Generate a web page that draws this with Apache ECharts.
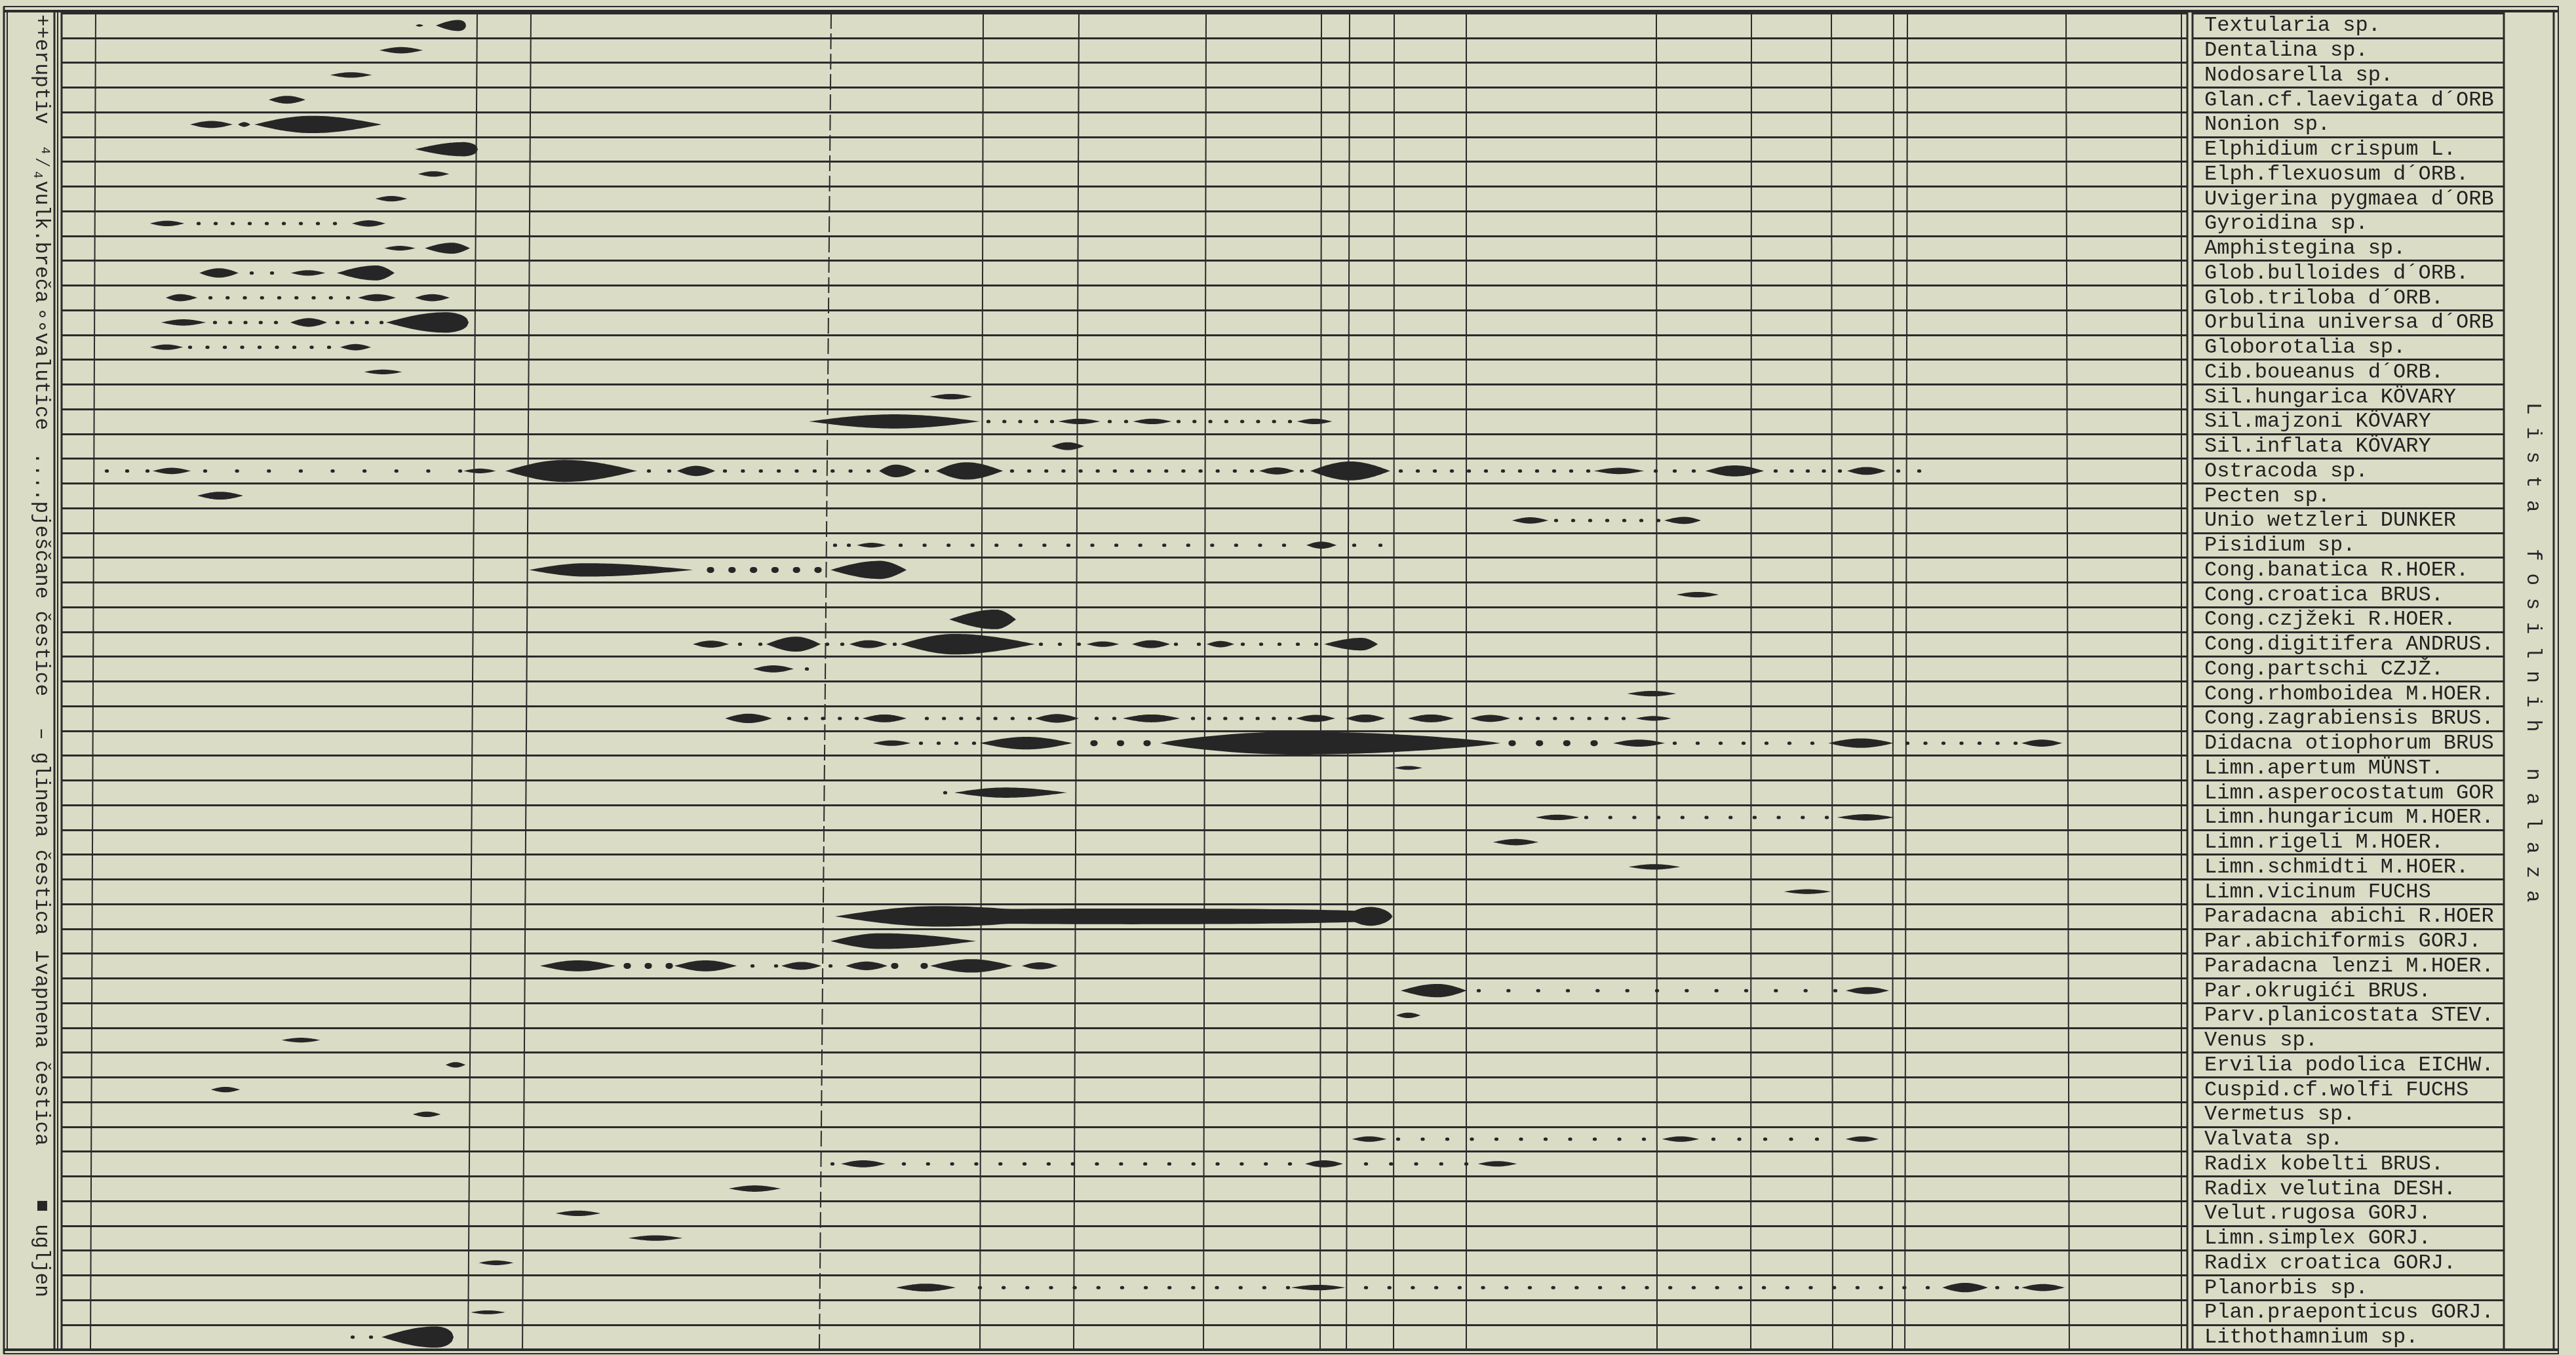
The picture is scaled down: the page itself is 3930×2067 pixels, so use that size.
<!DOCTYPE html>
<html>
<head>
<meta charset="utf-8">
<title>Lista fosilnih nalaza</title>
<script src="https://cdn.jsdelivr.net/npm/echarts@6/dist/echarts.min.js"></script>
<style>
  html, body { margin: 0; padding: 0; background: #dadcc6; }
  #chart { width: 3930px; height: 2067px; }
</style>
</head>
<body>
<div id="chart"></div>
<script>
// species, top to bottom
const species = [
  'Textularia sp.', 'Dentalina sp.', 'Nodosarella sp.', 'Glan.cf.laevigata d´ORB', 'Nonion sp.',
  'Elphidium crispum L.', 'Elph.flexuosum d´ORB.', 'Uvigerina pygmaea d´ORB', 'Gyroidina sp.',
  'Amphistegina sp.', 'Glob.bulloides d´ORB.', 'Glob.triloba d´ORB.', 'Orbulina universa d´ORB',
  'Globorotalia sp.', 'Cib.boueanus d´ORB.', 'Sil.hungarica KÖVARY', 'Sil.majzoni KÖVARY',
  'Sil.inflata KÖVARY', 'Ostracoda sp.', 'Pecten sp.', 'Unio wetzleri DUNKER', 'Pisidium sp.',
  'Cong.banatica R.HOER.', 'Cong.croatica BRUS.', 'Cong.czjžeki R.HOER.', 'Cong.digitifera ANDRUS.',
  'Cong.partschi CZJŽ.', 'Cong.rhomboidea M.HOER.', 'Cong.zagrabiensis BRUS.', 'Didacna otiophorum BRUS',
  'Limn.apertum MÜNST.', 'Limn.asperocostatum GOR', 'Limn.hungaricum M.HOER.', 'Limn.rigeli M.HOER.',
  'Limn.schmidti M.HOER.', 'Limn.vicinum FUCHS', 'Paradacna abichi R.HOER', 'Par.abichiformis GORJ.',
  'Paradacna lenzi M.HOER.', 'Par.okrugići BRUS.', 'Parv.planicostata STEV.', 'Venus sp.',
  'Ervilia podolica EICHW.', 'Cuspid.cf.wolfi FUCHS', 'Vermetus sp.', 'Valvata sp.',
  'Radix kobelti BRUS.', 'Radix velutina DESH.', 'Velut.rugosa GORJ.', 'Limn.simplex GORJ.',
  'Radix croatica GORJ.', 'Planorbis sp.', 'Plan.praeponticus GORJ.', 'Lithothamnium sp.'
];

// ruled section columns: [position at top, position at bottom, dashed]
const columnLines = [
  [146, 138], [728, 714], [810, 797], [1268, 1250, true], [1500, 1495], [1646, 1638],
  [1840, 1836], [2016, 2014], [2059, 2054], [2127, 2126], [2237, 2237], [2527, 2528],
  [2672, 2671], [2794, 2796], [2889, 2887], [2910, 2906], [3152, 3157]
];

// occurrences drawn as lenses: [species, from, to, abundance, peak (0..1), fullness]
const lenses = [
  ['Textularia sp.', 634, 646, 3, 0.5], ['Textularia sp.', 665, 711, 14, 0.75],
  ['Dentalina sp.', 579, 645, 8, 0.5],
  ['Nodosarella sp.', 504, 567, 7, 0.5],
  ['Glan.cf.laevigata d´ORB', 410, 466, 10, 0.5],
  ['Nonion sp.', 290, 355, 9, 0.5], ['Nonion sp.', 363, 382, 6, 0.5], ['Nonion sp.', 388, 582, 22, 0.45],
  ['Elphidium crispum L.', 633, 729, 18, 0.78],
  ['Elph.flexuosum d´ORB.', 638, 685, 7, 0.5],
  ['Uvigerina pygmaea d´ORB', 573, 621, 7, 0.5],
  ['Gyroidina sp.', 229, 281, 7, 0.5], ['Gyroidina sp.', 537, 588, 8, 0.5],
  ['Amphistegina sp.', 586, 634, 6, 0.5], ['Amphistegina sp.', 648, 717, 14, 0.6],
  ['Glob.bulloides d´ORB.', 304, 364, 12, 0.5], ['Glob.bulloides d´ORB.', 444, 496, 7, 0.5],
  ['Glob.bulloides d´ORB.', 514, 602, 19, 0.68],
  ['Glob.triloba d´ORB.', 253, 301, 9, 0.45], ['Glob.triloba d´ORB.', 546, 604, 9, 0.5],
  ['Glob.triloba d´ORB.', 633, 686, 9, 0.5],
  ['Orbulina universa d´ORB', 246, 314, 8, 0.5], ['Orbulina universa d´ORB', 443, 499, 11, 0.5],
  ['Orbulina universa d´ORB', 589, 715, 26, 0.72],
  ['Globorotalia sp.', 229, 279, 7, 0.5], ['Globorotalia sp.', 519, 566, 8, 0.5],
  ['Cib.boueanus d´ORB.', 555, 614, 6, 0.5],
  ['Sil.hungarica KÖVARY', 1419, 1483, 7, 0.5],
  ['Sil.majzoni KÖVARY', 1234, 1495, 18, 0.5], ['Sil.majzoni KÖVARY', 1615, 1678, 7, 0.5],
  ['Sil.majzoni KÖVARY', 1729, 1787, 7, 0.5], ['Sil.majzoni KÖVARY', 1979, 2032, 7, 0.5],
  ['Sil.inflata KÖVARY', 1604, 1654, 10, 0.5],
  ['Ostracoda sp.', 233, 291, 8, 0.5], ['Ostracoda sp.', 707, 757, 6, 0.5], ['Ostracoda sp.', 771, 972, 28, 0.45],
  ['Ostracoda sp.', 1033, 1091, 13, 0.5], ['Ostracoda sp.', 1341, 1398, 16, 0.45], ['Ostracoda sp.', 1428, 1530, 22, 0.45],
  ['Ostracoda sp.', 1921, 1975, 9, 0.5], ['Ostracoda sp.', 1999, 2121, 24, 0.5], ['Ostracoda sp.', 2432, 2508, 8, 0.5],
  ['Ostracoda sp.', 2602, 2691, 14, 0.5], ['Ostracoda sp.', 2818, 2877, 10, 0.5],
  ['Pecten sp.', 301, 371, 10, 0.5],
  ['Unio wetzleri DUNKER', 2307, 2362, 8, 0.5], ['Unio wetzleri DUNKER', 2539, 2595, 9, 0.55],
  ['Pisidium sp.', 1307, 1352, 6, 0.5], ['Pisidium sp.', 1993, 2039, 9, 0.5],
  ['Cong.banatica R.HOER.', 807, 1057, 17, 0.35], ['Cong.banatica R.HOER.', 1267, 1383, 23, 0.65],
  ['Cong.croatica BRUS.', 2558, 2622, 7, 0.5],
  ['Cong.czjžeki R.HOER.', 1448, 1550, 25, 0.7],
  ['Cong.digitifera ANDRUS.', 1057, 1112, 9, 0.5], ['Cong.digitifera ANDRUS.', 1169, 1252, 19, 0.55],
  ['Cong.digitifera ANDRUS.', 1296, 1354, 10, 0.5], ['Cong.digitifera ANDRUS.', 1374, 1579, 26, 0.4],
  ['Cong.digitifera ANDRUS.', 1658, 1707, 7, 0.5], ['Cong.digitifera ANDRUS.', 1727, 1785, 10, 0.5],
  ['Cong.digitifera ANDRUS.', 1841, 1883, 8, 0.5], ['Cong.digitifera ANDRUS.', 2020, 2102, 16, 0.7],
  ['Cong.partschi CZJŽ.', 1149, 1211, 9, 0.5],
  ['Cong.rhomboidea M.HOER.', 2483, 2557, 7, 0.5],
  ['Cong.zagrabiensis BRUS.', 1106, 1178, 12, 0.5], ['Cong.zagrabiensis BRUS.', 1316, 1383, 10, 0.5],
  ['Cong.zagrabiensis BRUS.', 1579, 1646, 11, 0.5], ['Cong.zagrabiensis BRUS.', 1713, 1800, 10, 0.5],
  ['Cong.zagrabiensis BRUS.', 1977, 2037, 9, 0.5], ['Cong.zagrabiensis BRUS.', 2053, 2113, 10, 0.5],
  ['Cong.zagrabiensis BRUS.', 2148, 2218, 10, 0.5], ['Cong.zagrabiensis BRUS.', 2243, 2304, 9, 0.5],
  ['Cong.zagrabiensis BRUS.', 2495, 2550, 6, 0.5],
  ['Didacna otiophorum BRUS', 1332, 1389, 7, 0.5], ['Didacna otiophorum BRUS', 1495, 1636, 16, 0.5],
  ['Didacna otiophorum BRUS', 1770, 2289, 29, 0.4, 0.8], ['Didacna otiophorum BRUS', 2461, 2540, 9, 0.5],
  ['Didacna otiophorum BRUS', 2789, 2889, 12, 0.5], ['Didacna otiophorum BRUS', 3084, 3146, 9, 0.5],
  ['Limn.apertum MÜNST.', 2127, 2170, 5, 0.5],
  ['Limn.asperocostatum GOR', 1456, 1628, 13, 0.45],
  ['Limn.hungaricum M.HOER.', 2343, 2409, 7, 0.5], ['Limn.hungaricum M.HOER.', 2803, 2890, 8, 0.5],
  ['Limn.rigeli M.HOER.', 2278, 2347, 8, 0.5],
  ['Limn.schmidti M.HOER.', 2485, 2563, 7, 0.5],
  ['Limn.vicinum FUCHS', 2721, 2794, 6, 0.5],
  ['Paradacna abichi R.HOER', 1274, 1650, 26, 0.42], ['Paradacna abichi R.HOER', 1330, 2125, 20, 0.5, 0.22],
  ['Paradacna abichi R.HOER', 2058, 2124, 24, 0.5, 0.6],
  ['Par.abichiformis GORJ.', 1267, 1489, 20, 0.35],
  ['Paradacna lenzi M.HOER.', 824, 939, 14, 0.5], ['Paradacna lenzi M.HOER.', 1029, 1124, 14, 0.5],
  ['Paradacna lenzi M.HOER.', 1192, 1253, 10, 0.5], ['Paradacna lenzi M.HOER.', 1290, 1354, 11, 0.5],
  ['Paradacna lenzi M.HOER.', 1419, 1545, 17, 0.5], ['Paradacna lenzi M.HOER.', 1559, 1614, 9, 0.5],
  ['Par.okrugići BRUS.', 2137, 2238, 17, 0.55], ['Par.okrugići BRUS.', 2816, 2882, 9, 0.5],
  ['Parv.planicostata STEV.', 2130, 2167, 7, 0.5],
  ['Venus sp.', 429, 489, 6, 0.5],
  ['Ervilia podolica EICHW.', 680, 710, 7, 0.5],
  ['Cuspid.cf.wolfi FUCHS', 322, 366, 7, 0.5],
  ['Vermetus sp.', 630, 672, 7, 0.5],
  ['Valvata sp.', 2063, 2115, 7, 0.5], ['Valvata sp.', 2536, 2592, 7, 0.5], ['Valvata sp.', 2816, 2866, 7, 0.5],
  ['Radix kobelti BRUS.', 1283, 1351, 9, 0.5], ['Radix kobelti BRUS.', 1991, 2049, 9, 0.5],
  ['Radix kobelti BRUS.', 2255, 2314, 7, 0.5],
  ['Radix velutina DESH.', 1112, 1191, 8, 0.5],
  ['Velut.rugosa GORJ.', 848, 916, 7, 0.5],
  ['Limn.simplex GORJ.', 959, 1041, 7, 0.5],
  ['Radix croatica GORJ.', 730, 784, 6, 0.5],
  ['Planorbis sp.', 1367, 1458, 10, 0.5], ['Planorbis sp.', 1970, 2052, 7, 0.5],
  ['Planorbis sp.', 2963, 3033, 12, 0.5], ['Planorbis sp.', 3084, 3150, 9, 0.5],
  ['Plan.praeponticus GORJ.', 718, 771, 5, 0.5],
  ['Lithothamnium sp.', 582, 692, 27, 0.75]
];

// sparse occurrences drawn as dotted runs: [species, from, to, kind]
const dotRuns = [
  ['Gyroidina sp.', 303, 511, 'fine'],
  ['Glob.bulloides d´ORB.', 384, 415, 'fine'],
  ['Glob.triloba d´ORB.', 321, 531, 'fine'],
  ['Orbulina universa d´ORB', 328, 421, 'fine'], ['Orbulina universa d´ORB', 515, 582, 'fine'],
  ['Globorotalia sp.', 290, 502, 'fine'],
  ['Sil.majzoni KÖVARY', 1508, 1605, 'fine'], ['Sil.majzoni KÖVARY', 1693, 1718, 'fine'],
  ['Sil.majzoni KÖVARY', 1798, 1968, 'fine'],
  ['Ostracoda sp.', 163, 225, 'fine'], ['Ostracoda sp.', 313, 702, 'wide'], ['Ostracoda sp.', 990, 1021, 'fine'],
  ['Ostracoda sp.', 1106, 1325, 'fine'], ['Ostracoda sp.', 1414, 1414, 'fine'], ['Ostracoda sp.', 1544, 1910, 'fine'],
  ['Ostracoda sp.', 1986, 1986, 'fine'], ['Ostracoda sp.', 2137, 2423, 'fine'], ['Ostracoda sp.', 2526, 2584, 'fine'],
  ['Ostracoda sp.', 2709, 2807, 'fine'], ['Ostracoda sp.', 2896, 2928, 'fine'],
  ['Unio wetzleri DUNKER', 2374, 2530, 'fine'],
  ['Pisidium sp.', 1274, 1295, 'fine'], ['Pisidium sp.', 1374, 1959, 'open'], ['Pisidium sp.', 2066, 2106, 'open'],
  ['Cong.banatica R.HOER.', 1084, 1248, 'bead'],
  ['Cong.digitifera ANDRUS.', 1129, 1160, 'fine'], ['Cong.digitifera ANDRUS.', 1262, 1285, 'fine'],
  ['Cong.digitifera ANDRUS.', 1365, 1365, 'fine'], ['Cong.digitifera ANDRUS.', 1588, 1646, 'fine'],
  ['Cong.digitifera ANDRUS.', 1794, 1829, 'fine'], ['Cong.digitifera ANDRUS.', 1896, 2008, 'fine'],
  ['Cong.partschi CZJŽ.', 1231, 1231, 'fine'],
  ['Cong.zagrabiensis BRUS.', 1204, 1307, 'fine'], ['Cong.zagrabiensis BRUS.', 1414, 1571, 'fine'],
  ['Cong.zagrabiensis BRUS.', 1673, 1700, 'fine'], ['Cong.zagrabiensis BRUS.', 1820, 1968, 'fine'],
  ['Cong.zagrabiensis BRUS.', 2320, 2477, 'fine'],
  ['Didacna otiophorum BRUS', 1405, 1486, 'fine'], ['Didacna otiophorum BRUS', 1669, 1750, 'bead'],
  ['Didacna otiophorum BRUS', 2307, 2432, 'bead'], ['Didacna otiophorum BRUS', 2555, 2765, 'open'],
  ['Didacna otiophorum BRUS', 2910, 3075, 'fine'],
  ['Limn.asperocostatum GOR', 1442, 1442, 'fine'],
  ['Limn.hungaricum M.HOER.', 2420, 2787, 'open'],
  ['Paradacna lenzi M.HOER.', 957, 1021, 'bead'], ['Paradacna lenzi M.HOER.', 1148, 1184, 'open'],
  ['Paradacna lenzi M.HOER.', 1267, 1267, 'fine'], ['Paradacna lenzi M.HOER.', 1365, 1410, 'bead'],
  ['Par.okrugići BRUS.', 2256, 2800, 'wide'],
  ['Valvata sp.', 2133, 2508, 'open'], ['Valvata sp.', 2614, 2772, 'open'],
  ['Radix kobelti BRUS.', 1270, 1270, 'fine'], ['Radix kobelti BRUS.', 1379, 1968, 'open'],
  ['Radix kobelti BRUS.', 2084, 2237, 'open'],
  ['Planorbis sp.', 1495, 1965, 'open'], ['Planorbis sp.', 2084, 2941, 'open'], ['Planorbis sp.', 3047, 3077, 'fine'],
  ['Lithothamnium sp.', 538, 566, 'fine']
];

// legend of lithology (left margin) and the column title (right margin)
const legendLabels = ['++eruptiv', '⁴⁄₄vulk.breča', '∘∘valutice', '....pješčane čestice',
  '– glinena čestica', '⊥vapnena čestica', '■ ugljen'];
const sideTitle = 'L i s t a   f o s i l n i h   n a l a z a';

// ---- styles and layout ----
const PAPER = '#dadcc6';
const INK = '#262626';
const RULE = '#2b2b2b';
const MONO = "'Liberation Mono', 'DejaVu Sans Mono', monospace";
const THICK = 1.2;   // px of lens thickness per abundance unit
const dotStyles = {
  fine: { gap: 26, size: 5 },
  open: { gap: 36, size: 5 },
  wide: { gap: 46, size: 5 },
  bead: { gap: 36, size: 9 }
};
const legendY = [22, 220, 470, 690, 1110, 1450, 1830];

const rowOf = name => species.indexOf(name);

// lens thickness profile, t in 0..1
function lensProfile(t, peak, full) {
  let u, side;
  if (t <= peak) { u = peak > 0 ? t / peak : 1; side = peak; }
  else { u = (1 - t) / (1 - peak); side = 1 - peak; }
  let s = side < 0.3 ? Math.sqrt(Math.max(0, 1 - (1 - u) * (1 - u))) : Math.sin(Math.PI / 2 * u);
  return Math.pow(Math.max(0, s), full);
}

function renderLens(params, api) {
  const row = api.value(0);
  const a = api.coord([api.value(1), row]);
  const b = api.coord([api.value(2), row]);
  const half = api.value(3) * THICK / 2;
  const peak = api.value(4);
  const full = api.value(5);
  const steps = 48;
  const top = [], bottom = [];
  for (let i = 0; i <= steps; i++) {
    const t = i / steps;
    const x = a[0] + (b[0] - a[0]) * t;
    const h = half * lensProfile(t, peak, full);
    top.push([x, a[1] - h]);
    bottom.push([x, a[1] + h]);
  }
  return {
    type: 'polygon',
    shape: { points: top.concat(bottom.reverse()) },
    style: { fill: INK }
  };
}

function renderDots(params, api) {
  const row = api.value(0);
  const a = api.coord([api.value(1), row]);
  const b = api.coord([api.value(2), row]);
  const gap = api.value(3), size = api.value(4);
  const len = b[0] - a[0];
  const n = Math.max(0, Math.round(len / gap));
  const children = [];
  for (let k = 0; k <= n; k++) {
    const cx = n === 0 ? a[0] : a[0] + len * k / n;
    const w = size * 1.25;
    children.push({
      type: 'rect',
      shape: { x: cx - w / 2, y: a[1] - size / 2, width: w, height: size, r: size / 2 },
      style: { fill: INK }
    });
  }
  return { type: 'group', children };
}

function renderColumn(params, api) {
  const cs = params.coordSys;
  const xt = api.coord([api.value(0), 0])[0];
  const xb = api.coord([api.value(1), 0])[0];
  return {
    type: 'line',
    shape: { x1: xt, y1: cs.y, x2: xb, y2: cs.y + cs.height },
    style: { stroke: RULE, lineWidth: 2, lineDash: api.value(2) ? [24, 7] : null }
  };
}

// frame drawing helpers (layout only)
const vline = (x, y1, y2, w) => ({ type: 'line', shape: { x1: x, y1, x2: x, y2 }, style: { stroke: RULE, lineWidth: w }, silent: true });
const hline = (y, x1, x2, w) => ({ type: 'line', shape: { x1, y1: y, x2, y2: y }, style: { stroke: RULE, lineWidth: w }, silent: true });

const graphics = [
  hline(10, 5, 3904, 2), hline(17, 5, 3904, 4),
  hline(2059, 5, 3904, 4), hline(2065, 5, 3904, 2),
  vline(6, 10, 2065, 3), vline(11, 17, 2059, 2),
  vline(83, 17, 2059, 3), vline(88, 17, 2059, 2), vline(94, 17, 2059, 3),
  vline(3328, 17, 2059, 2), vline(3337, 17, 2059, 3), vline(3345, 17, 2059, 3),
  vline(3820, 17, 2059, 3), vline(3896, 17, 2059, 3), vline(3903, 10, 2065, 2)
];
legendLabels.forEach((txt, i) => {
  graphics.push({
    type: 'text', x: 63, y: legendY[i], rotation: -Math.PI / 2, silent: true,
    style: { text: txt, fill: INK, font: '31px ' + MONO, textAlign: 'left', textVerticalAlign: 'middle' }
  });
});
graphics.push({
  type: 'text', x: 3864, y: 614, rotation: -Math.PI / 2, silent: true,
  style: { text: sideTitle, fill: INK, font: '31px ' + MONO, textAlign: 'left', textVerticalAlign: 'middle' }
});

const chart = echarts.init(document.getElementById('chart'), null, { renderer: 'canvas' });

const option = {
  backgroundColor: PAPER,
  animation: false,
  grid: [
    { left: 94, right: 593, top: 20, bottom: 8.5 },
    { left: 3345, right: 110, top: 20, bottom: 8.5 }
  ],
  xAxis: [
    { type: 'value', gridIndex: 0, min: 94, max: 3337, show: false },
    { type: 'value', gridIndex: 1, min: 0, max: 1, show: false }
  ],
  yAxis: [
    {
      type: 'category', gridIndex: 0, data: species, inverse: true,
      axisLine: { show: false }, axisTick: { show: false }, axisLabel: { show: false },
      splitLine: { show: true, lineStyle: { color: RULE, width: 3 } }
    },
    {
      type: 'category', gridIndex: 1, data: species, inverse: true,
      axisLine: { show: false }, axisTick: { show: false },
      axisLabel: {
        show: true, inside: true, margin: 18, align: 'left', interval: 0,
        fontFamily: MONO, fontSize: 32, color: '#222'
      },
      splitLine: { show: true, lineStyle: { color: RULE, width: 3 } }
    }
  ],
  series: [
    {
      name: 'columns', type: 'custom', silent: true, clip: false, z: 1,
      xAxisIndex: 0, yAxisIndex: 0,
      data: columnLines.map(c => [c[0], c[1], c[2] ? 1 : 0, 0]),
      encode: { x: [0, 1], y: 3 },
      renderItem: renderColumn
    },
    {
      name: 'dots', type: 'custom', silent: true, z: 3,
      xAxisIndex: 0, yAxisIndex: 0,
      data: dotRuns.map(d => [rowOf(d[0]), d[1], d[2], dotStyles[d[3]].gap, dotStyles[d[3]].size]),
      encode: { x: [1, 2], y: 0 },
      renderItem: renderDots
    },
    {
      name: 'lenses', type: 'custom', silent: true, z: 4,
      xAxisIndex: 0, yAxisIndex: 0,
      data: lenses.map(l => [rowOf(l[0]), l[1], l[2], l[3], l[4], l[5] == null ? 1 : l[5]]),
      encode: { x: [1, 2], y: 0 },
      renderItem: renderLens
    }
  ],
  graphic: graphics
};

chart.setOption(option);
</script>
</body>
</html>
